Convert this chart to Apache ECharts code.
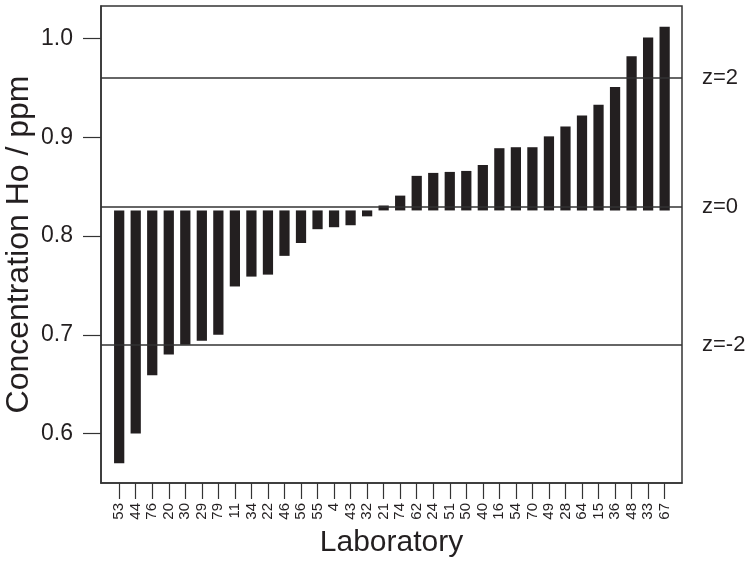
<!DOCTYPE html>
<html>
<head>
<meta charset="utf-8">
<script src="https://cdn.jsdelivr.net/npm/echarts@6/dist/echarts.min.js"></script>
<style>
html,body{margin:0;padding:0;background:#fff;}
#chart{width:750px;height:564px;}
</style>
</head>
<body>
<div id="chart"></div>
<script>
var categories = ['53','44','76','20','30','29','79','11','34','22','46','56','55','4','43','32','21','74','62','24','51','50','40','16','54','70','49','28','64','15','36','48','33','67'];
var values = [0.570,0.600,0.659,0.680,0.690,0.694,0.700,0.749,0.759,0.761,0.780,0.793,0.807,0.809,0.811,0.820,0.831,0.841,0.861,0.864,0.865,0.866,0.872,0.889,0.890,0.890,0.901,0.911,0.922,0.933,0.951,0.982,1.001,1.012];
var zCenter = 0.826;
var zLineValues = [0.963, 0.826, 0.690];
var zLineLabels = ['z=2', 'z=0', 'z=-2'];
var yTicks = [0.6, 0.7, 0.8, 0.9, 1.0];

var idx = categories.map(function (c, i) { return i; });
var barData = values.map(function (v, i) { return [i, v]; });

var chart = echarts.init(document.getElementById('chart'));
var txt = '#231f20';
chart.setOption({
  animation: false,
  backgroundColor: '#fff',
  textStyle: { fontFamily: 'Liberation Sans, Arial, sans-serif' },
  grid: { left: 101, right: 68, top: 6, bottom: 81, containLabel: false, outerBoundsMode: 'none', show: true, borderColor: '#333', borderWidth: 1.5, backgroundColor: 'transparent' },
  xAxis: {
    type: 'value',
    min: -1.10,
    max: categories.length - 1 + 1.05,
    splitLine: { show: false },
    axisLine: { show: true, onZero: false, lineStyle: { color: '#333', width: 1.5 } },
    axisTick: { show: true, customValues: idx, length: 16, inside: false, lineStyle: { color: '#333', width: 1.2 } },
    axisLabel: {
      customValues: idx,
      rotate: 90,
      margin: 20,
      fontSize: 15,
      color: txt,
      formatter: function (v) { return categories[Math.round(v)]; }
    },
    name: 'Laboratory',
    nameLocation: 'middle',
    nameGap: 45,
    nameMoveOverlap: false,
    nameTextStyle: { fontSize: 30, color: txt }
  },
  yAxis: {
    type: 'value',
    min: 0.55,
    max: 1.033,
    splitLine: { show: false },
    axisLine: { show: true, onZero: false, lineStyle: { color: '#333', width: 1.5 } },
    axisTick: { show: true, customValues: yTicks, length: 18, lineStyle: { color: '#333', width: 1.2 } },
    axisLabel: {
      customValues: yTicks,
      margin: 28,
      fontSize: 23,
      color: txt,
      formatter: function (v) { return v.toFixed(1); }
    },
    name: 'Concentration Ho / ppm',
    nameLocation: 'middle',
    nameGap: 66,
    nameMoveOverlap: false,
    nameTextStyle: { fontSize: 32, color: txt }
  },
  series: [
    {
      type: 'custom',
      data: barData,
      renderItem: function (params, api) {
        var x = api.value(0);
        var top = api.coord([x, api.value(1)]);
        var base = api.coord([x, zCenter]);
        var w = api.size([1, 0])[0] * 0.62;
        var y0 = Math.min(top[1], base[1]);
        var h = Math.abs(top[1] - base[1]);
        return {
          type: 'rect',
          shape: { x: top[0] - w / 2, y: y0, width: w, height: h },
          style: { fill: '#231f20' }
        };
      },
      z: 2
    },
    {
      type: 'line',
      data: [],
      markLine: {
        silent: true,
        symbol: ['none', 'none'],
        lineStyle: { color: '#333', width: 1.5, type: 'solid' },
        label: {
          show: true,
          position: 'end',
          distance: 20,
          fontSize: 22,
          color: txt,
          formatter: function (p) { return zLineLabels[p.dataIndex]; }
        },
        data: zLineValues.map(function (v) { return { yAxis: v }; })
      },
      z: 3
    }
  ]
});
</script>
</body>
</html>
